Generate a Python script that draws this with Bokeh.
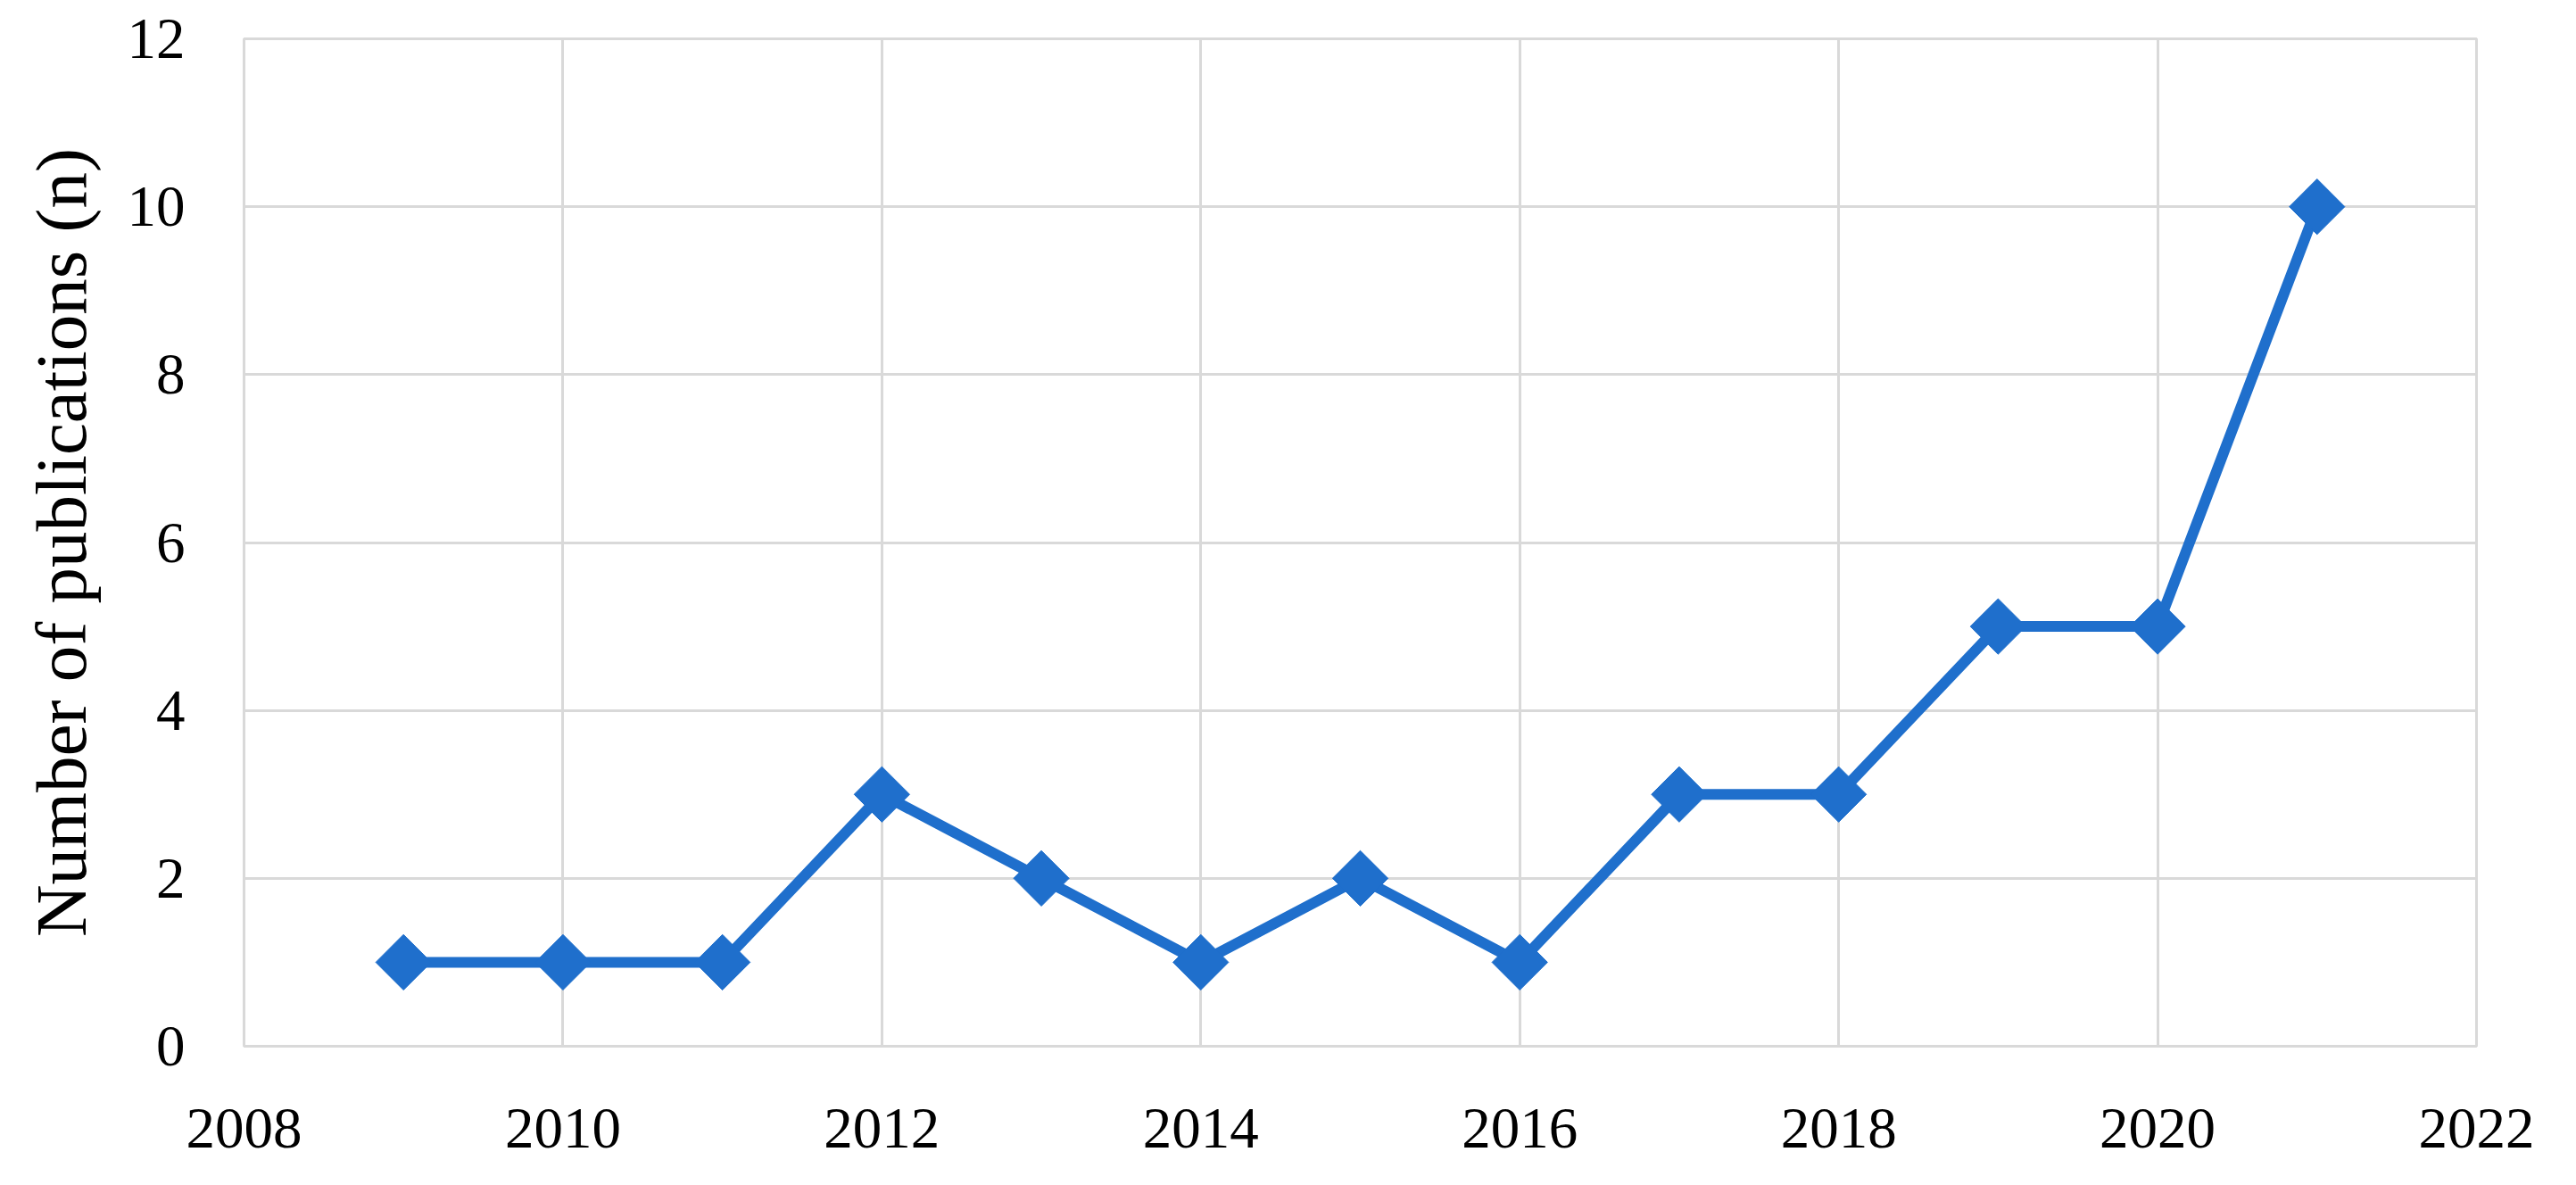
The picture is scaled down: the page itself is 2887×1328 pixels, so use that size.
import numpy as np
from bokeh.plotting import figure
from bokeh.models import Range1d, FixedTicker
from bokeh.embed import file_html
from bokeh.resources import INLINE

years = [2009, 2010, 2011, 2012, 2013, 2014, 2015, 2016, 2017, 2018, 2019, 2020, 2021]
publications = [1, 1, 1, 3, 2, 1, 2, 1, 3, 3, 5, 5, 10]
x_ticks = [2008, 2010, 2012, 2014, 2016, 2018, 2020, 2022]
y_ticks = [0, 2, 4, 6, 8, 10, 12]

BLUE = "#1f6fcc"
GRID = "#d9d9d9"
FONT = "Liberation Serif"

W, H = 2871, 1312
p = figure(width=W, height=H, output_backend="svg", toolbar_location=None,
           x_range=Range1d(2008, 2022), y_range=Range1d(0, 12),
           min_border_left=273, min_border_right=96, min_border_top=43,
           min_border_bottom=H - 43 - 1129)
p.frame_width = 2502
p.frame_height = 1129

p.line(years, publications, line_color=BLUE, line_width=12)
p.scatter(years, publications, marker="square", size=44, angle=np.pi / 4,
          fill_color=BLUE, line_color=BLUE)

for ax in (p.xaxis, p.yaxis):
    ax.axis_line_color = None
    ax.major_tick_line_color = None
    ax.minor_tick_line_color = None
    ax.major_label_text_font = FONT
    ax.major_label_text_font_size = "65px"
    ax.major_label_text_color = "black"

p.xaxis.ticker = FixedTicker(ticks=x_ticks)
p.yaxis.ticker = FixedTicker(ticks=y_ticks)
p.xaxis.major_label_standoff = 64
p.yaxis.major_label_standoff = 60

p.yaxis.axis_label = "Number of publications (n)"
p.yaxis.axis_label_text_font = FONT
p.yaxis.axis_label_text_font_style = "normal"
p.yaxis.axis_label_text_font_size = "81px"
p.yaxis.axis_label_text_color = "black"
p.yaxis.axis_label_standoff = 26

p.xgrid.ticker = FixedTicker(ticks=x_ticks)
p.ygrid.ticker = FixedTicker(ticks=y_ticks)
p.grid.grid_line_color = GRID
p.grid.grid_line_width = 3
p.outline_line_color = GRID
p.outline_line_width = 3
p.outline_line_alpha = 1.0

open("out.html", "w").write(file_html(p, INLINE))
